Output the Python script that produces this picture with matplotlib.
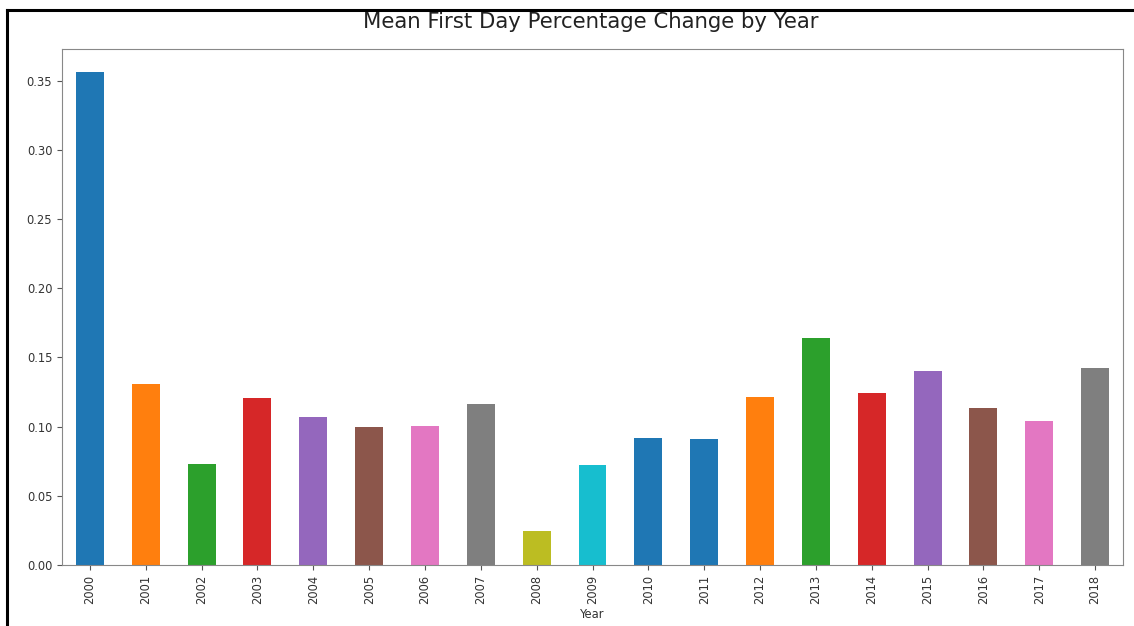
import matplotlib
matplotlib.use("Agg")
import matplotlib.pyplot as plt
from matplotlib.lines import Line2D

years = ["2000", "2001", "2002", "2003", "2004", "2005", "2006", "2007", "2008", "2009",
         "2010", "2011", "2012", "2013", "2014", "2015", "2016", "2017", "2018"]
mean_change = [0.3565, 0.1305, 0.0728, 0.1209, 0.1072, 0.0997, 0.1004, 0.1161, 0.0243, 0.0723,
               0.0921, 0.0913, 0.1212, 0.1640, 0.1245, 0.1401, 0.1134, 0.1043, 0.1423]
bar_colors = ["#1f77b4", "#ff7f0e", "#2ca02c", "#d62728", "#9467bd", "#8c564b", "#e377c2",
              "#7f7f7f", "#bcbd22", "#17becf", "#1f77b4", "#1f77b4", "#ff7f0e", "#2ca02c",
              "#d62728", "#9467bd", "#8c564b", "#e377c2", "#7f7f7f"]

W, H = 1134, 626
fig = plt.figure(figsize=(W / 100, H / 100), dpi=100)
ax = fig.add_axes([62 / W, 1 - 565 / H, (1123 - 62) / W, (565 - 49) / H])

x = list(range(len(years)))
ax.bar(x, mean_change, width=0.5, color=bar_colors)
ax.set_xlim(-0.5, len(years) - 0.5)
ax.set_ylim(0, 0.373)
ax.set_xticks(x)
ax.set_xticklabels(years, rotation=90, fontsize=8.3, color="#333333")
ax.set_yticks([0, 0.05, 0.10, 0.15, 0.20, 0.25, 0.30, 0.35])
ax.set_yticklabels(["0.00", "0.05", "0.10", "0.15", "0.20", "0.25", "0.30", "0.35"],
                   fontsize=8.3, color="#333333")
ax.tick_params(length=3.5, color="#555555")
for s in ax.spines.values():
    s.set_color("#888888")
ax.set_xlabel("Year", fontsize=8.3, color="#333333", labelpad=3)

fig.text(591 / W, 1 - 22 / H, "Mean First Day Percentage Change by Year",
         ha="center", va="center", fontsize=15.3, color="#222222")

# screenshot frame lines
fig.add_artist(Line2D([7 / W, 1], [1 - 10 / H, 1 - 10 / H], transform=fig.transFigure,
                      color="black", lw=2.2))
fig.add_artist(Line2D([7 / W, 7 / W], [0, 1 - 10 / H], transform=fig.transFigure,
                      color="black", lw=2.2))

fig.savefig("out.png", dpi=100)
